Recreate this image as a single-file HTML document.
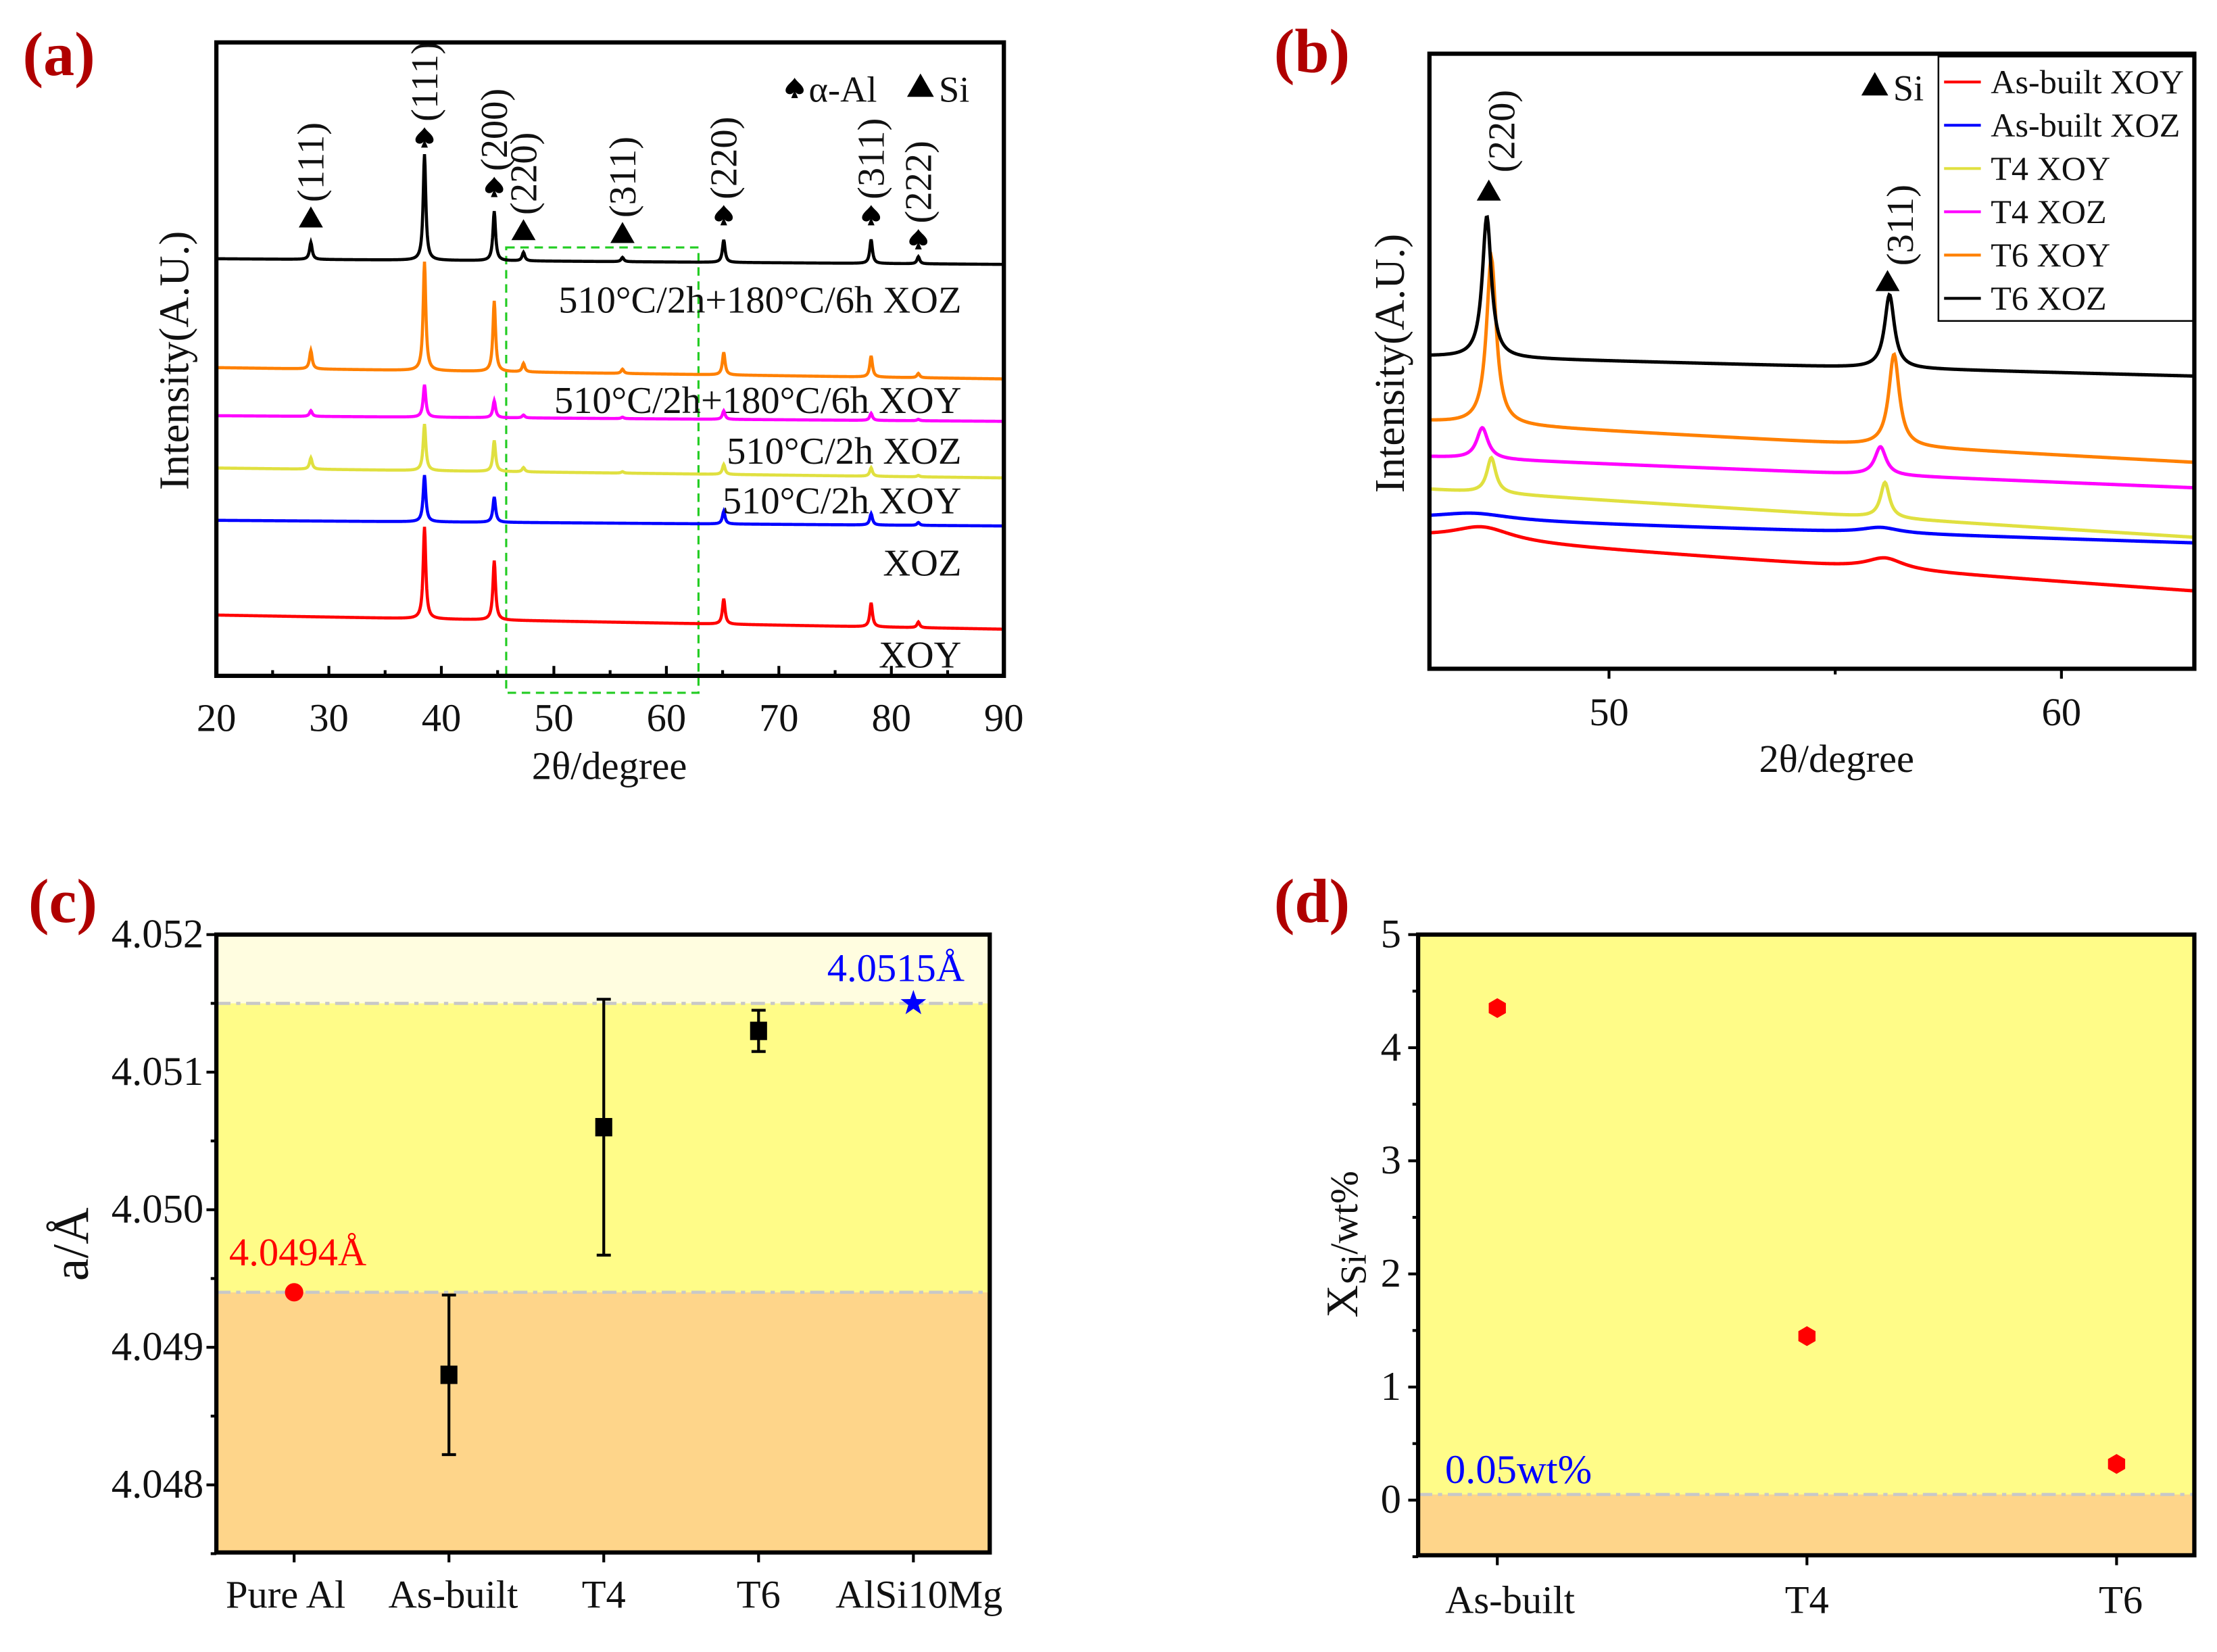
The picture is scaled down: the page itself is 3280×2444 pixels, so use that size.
<!DOCTYPE html>
<html><head><meta charset="utf-8">
<style>
html,body{margin:0;padding:0;background:#fff;}
svg{display:block;}
text{font-family:"Liberation Serif",serif;}
</style></head>
<body>
<svg id="fig" xmlns="http://www.w3.org/2000/svg" width="3280" height="2444" viewBox="0 0 1568 1168.4">
<rect x="0" y="0" width="1568" height="1169" fill="#fff"/>
<g id="pa"></g>
<g id="pb"></g>
<g id="pc"></g>
<g id="pd"></g>
</svg>
<script>
// ---------- Panel (a) data ----------
const aColors = ["#000000","#ff8000","#ff00ff","#e0e040","#0000ff","#ff0000"];
const aBaseStart = [183, 260, 294, 331, 368, 435];
const aBaseEnd = [187, 268, 298, 338, 372, 445];
const aPeakPos = [28.4, 38.5, 44.7, 47.3, 56.1, 65.1, 78.2, 82.4];
const aPeakH0 = [12, 75, 35, 6, 3, 16, 17, 5];
const aPeakH1 = [13, 77, 50, 6, 3, 16, 15, 3];
const aPeakH2 = [4, 23, 12, 2, 1, 6, 5, 1];
const aPeakH3 = [8, 33, 22, 3, 1, 7, 6, 1];
const aPeakH4 = [0, 33, 18, 0, 0, 9, 8, 2];
const aPeakH5 = [0, 65, 42, 0, 0, 18, 17, 4];
const aPeakH = [aPeakH0, aPeakH1, aPeakH2, aPeakH3, aPeakH4, aPeakH5];
const aXTicks = [20,30,40,50,60,70,80,90];
const aCurveLabels = ["510°C/2h+180°C/6h XOZ","510°C/2h+180°C/6h XOY","510°C/2h XOZ","510°C/2h XOY","XOZ","XOY"];
const aAnnPos = [28.4, 38.5, 44.7, 47.3, 56.1, 65.1, 78.2, 82.4];
const aAnnType = ["si","al","al","si","si","al","al","al"];
const aAnnText = ["(111)","(111)","(200)","(220)","(311)","(220)","(311)","(222)"];

// ---------- Panel (b) data ----------
const bColors = ["#ff0000","#0000ff","#e0e040","#ff00ff","#ff8000","#000000"];
const bNames = ["As-built XOY","As-built XOZ","T4 XOY","T4 XOZ","T6 XOY","T6 XOZ"];
const bBaseStart = [380, 367, 346, 323, 298, 252];
const bBaseEnd = [418, 384, 380, 345, 327, 266];
const bPeak1Pos = [47.2, 47.0, 47.4, 47.2, 47.4, 47.3];
const bPeak1H = [10, 5, 25, 22, 118, 100];
const bPeak1W = [0.8, 1.0, 0.12, 0.15, 0.13, 0.12];
const bPeak2Pos = [56.1, 56.0, 56.1, 56.0, 56.3, 56.2];
const bPeak2H = [8, 4, 25, 20, 65, 52];
const bPeak2W = [0.5, 0.5, 0.12, 0.15, 0.14, 0.13];
const bXTicks = [50, 60];

// ---------- Panel (c) data ----------
const cCats = ["Pure Al","As-built","T4","T6","AlSi10Mg"];
const cVals = [4.0494, 4.0488, 4.0506, 4.0513, 4.0515];
const cErrLo = [0, 4.04822, 4.04967, 4.05115, 0];
const cErrHi = [0, 4.04938, 4.05153, 4.05145, 0];
const cYTicks = [4.048, 4.049, 4.050, 4.051, 4.052];
const cRefLow = 4.0494, cRefHigh = 4.0515;

// ---------- Panel (d) data ----------
const dCats = ["As-built","T4","T6"];
const dVals = [4.35, 1.45, 0.32];
const dYTicks = [0,1,2,3,4,5];
const dRef = 0.05;

const NS="http://www.w3.org/2000/svg";
function mk(parent, tag, attrs, txt){
  const e=document.createElementNS(NS,tag);
  for(const k in attrs) e.setAttribute(k, attrs[k]);
  if(txt!==undefined) e.textContent=txt;
  parent.appendChild(e); return e;
}
function spade(g,x,y,s){
  const e=mk(g,"path",{d:`M${x},${y-s} C${x-s*0.2},${y-s*0.6} ${x-s},${y-s*0.2} ${x-s*0.75},${y+s*0.3} C${x-s*0.5},${y+s*0.6} ${x-s*0.1},${y+s*0.4} ${x-s*0.05},${y+s*0.2} L${x-s*0.3},${y+s*0.8} L${x+s*0.3},${y+s*0.8} L${x+s*0.05},${y+s*0.2} C${x+s*0.1},${y+s*0.4} ${x+s*0.5},${y+s*0.6} ${x+s*0.75},${y+s*0.3} C${x+s},${y-s*0.2} ${x+s*0.2},${y-s*0.6} ${x},${y-s} Z`,fill:"#000"});
  
  
}
function tri(g,x,y,s){
  const e=mk(g,"path",{d:`M${x},${y-s} L${x+s*0.95},${y+s*0.65} L${x-s*0.95},${y+s*0.65} Z`,fill:"#000"});
  
  
}
function label(g,x,y,txt,size,name,opts){
  const a=Object.assign({x:x,y:y,"font-size":size,fill:"#111"},opts||{});
  const t=mk(g,"text",a,txt);
  
  
  return t;
}

// ========== Panel (a) ==========
(function(){
  const g=document.getElementById("pa");
  const L=153,R=710,T=30,B=478,x0=20,x1=90;
  const sx=v=>L+(v-x0)/(x1-x0)*(R-L);
  label(g,16,53,"(a)",44,"panel-a-label",{fill:"#b00000","font-weight":"bold"});
  const gb=mk(g,"rect",{x:358,y:175,width:136,height:315,fill:"none",stroke:"#22cc22","stroke-width":1.5,"stroke-dasharray":"6,4"});
  
  
  for(let s=0;s<6;s++){
    let d="";
    for(let i=0;i<=1400;i++){
      const v=x0+(x1-x0)*i/1400;
      let y=aBaseStart[s]+(aBaseEnd[s]-aBaseStart[s])*(v-x0)/(x1-x0);
      for(let p=0;p<aPeakPos.length;p++){const u=(v-aPeakPos[p])/0.14;y-=aPeakH[s][p]/(1+u*u);}
      d+=(i?"L":"M")+sx(v).toFixed(2)+","+y.toFixed(2);
    }
    const e=mk(g,"path",{d:d,fill:"none",stroke:aColors[s],"stroke-width":2.2});
    
    
  }
  const labY=[221,292,328,363,407,472];
  for(let s=0;s<6;s++) label(g,680,labY[s],aCurveLabels[s],27,"curve-label",{"text-anchor":"end"});
  const annY=[155,98,133,164,166,153,153,170];
  for(let i=0;i<aAnnPos.length;i++){
    const x=sx(aAnnPos[i]);
    if(aAnnType[i]==="si") tri(g,x,annY[i],9); else spade(g,x,annY[i],8);
    label(g,x+9,annY[i]-12,aAnnText[i],27,"peak-index-label",{transform:`rotate(-90 ${x+9} ${annY[i]-12})`});
  }
  spade(g,562,63,8);
  label(g,572,72,"α-Al",26,"legend-al");
  tri(g,651,62,10);
  label(g,664,72,"Si",26,"legend-si");
  const bx=mk(g,"rect",{x:L,y:T,width:R-L,height:B-T,fill:"none",stroke:"#000","stroke-width":3});
  
  
  for(let v=20;v<=90;v+=5){
    const major=v%10===0;
    mk(g,"line",{x1:sx(v),x2:sx(v),y1:B,y2:B-(major?7:4),stroke:"#000","stroke-width":2});
  }
  aXTicks.forEach(v=>label(g,sx(v),517,String(v),28,"x-tick-label",{"text-anchor":"middle"}));
  label(g,431,551,"2θ/degree",28,"x-axis-title",{"text-anchor":"middle"});
  label(g,133,255,"Intensity(A.U.)",30,"y-axis-title",{"text-anchor":"middle",transform:"rotate(-90 133 255)"});
})();

// ========== Panel (b) ==========
(function(){
  const g=document.getElementById("pb");
  const L=1011,R=1552,T=38,B=473;
  const sx=v=>1138+(v-50)*32;
  const x0=(L-1138)/32+50, x1=(R-1138)/32+50;
  label(g,901,51,"(b)",44,"panel-b-label",{fill:"#b00000","font-weight":"bold"});
  for(let s=0;s<6;s++){
    let d="";
    for(let i=0;i<=900;i++){
      const v=x0+(x1-x0)*i/900;
      let y=bBaseStart[s]+(bBaseEnd[s]-bBaseStart[s])*(v-x0)/(x1-x0);
      let u=(v-bPeak1Pos[s])/bPeak1W[s]; y-=bPeak1H[s]/(1+u*u);
      u=(v-bPeak2Pos[s])/bPeak2W[s]; y-=bPeak2H[s]/(1+u*u);
      d+=(i?"L":"M")+sx(v).toFixed(2)+","+y.toFixed(2);
    }
    const e=mk(g,"path",{d:d,fill:"none",stroke:bColors[s],"stroke-width":2.4});
    
    
  }
  tri(g,1053,136,9);
  label(g,1071,122,"(220)",27,"peak-index-label",{transform:"rotate(-90 1071 122)"});
  tri(g,1335,200,9);
  label(g,1353,188,"(311)",27,"peak-index-label",{transform:"rotate(-90 1353 188)"});
  tri(g,1326,61,10);
  label(g,1339,71,"Si",26,"legend-si");
  const lg=mk(g,"g",{});
  
  
  mk(lg,"rect",{x:1371,y:40,width:181,height:187,fill:"#fff",stroke:"#000","stroke-width":1.2});
  [0,1,2,3,4,5].forEach((s,k)=>{
    const y=58+k*30.6;
    mk(lg,"line",{x1:1375,x2:1401,y1:y,y2:y,stroke:bColors[s],"stroke-width":2});
    label(lg,1408,y+8,bNames[s],24,"legend-entry");
  });
  const bx=mk(g,"rect",{x:L,y:T,width:R-L,height:B-T,fill:"none",stroke:"#000","stroke-width":3});
  
  
  [50,55,60].forEach(v=>mk(g,"line",{x1:sx(v),x2:sx(v),y1:B,y2:B+(v%10===0?7:4),stroke:"#000","stroke-width":2}));
  bXTicks.forEach(v=>label(g,sx(v),513,String(v),28,"x-tick-label",{"text-anchor":"middle"}));
  label(g,1299,546,"2θ/degree",28,"x-axis-title",{"text-anchor":"middle"});
  label(g,993,257,"Intensity(A.U.)",30,"y-axis-title",{"text-anchor":"middle",transform:"rotate(-90 993 257)"});
})();

// ========== Panel (c) ==========
(function(){
  const g=document.getElementById("pc");
  const L=153,R=700,T=661,B=1098;
  const sy=v=>661+(4.052-v)*97300;
  const sx=i=>208+i*109.5;
  label(g,20,652,"(c)",44,"panel-c-label",{fill:"#b00000","font-weight":"bold"});
  mk(g,"rect",{x:L,y:T,width:R-L,height:sy(cRefHigh)-T,fill:"#fffde0"});
  mk(g,"rect",{x:L,y:sy(cRefHigh),width:R-L,height:sy(cRefLow)-sy(cRefHigh),fill:"#fffc88"});
  mk(g,"rect",{x:L,y:sy(cRefLow),width:R-L,height:B-sy(cRefLow),fill:"#fed58a"});
  [cRefHigh,cRefLow].forEach(v=>{
    const e=mk(g,"line",{x1:L,x2:R,y1:sy(v),y2:sy(v),stroke:"#c8c8c8","stroke-width":2.2,"stroke-dasharray":"10,4,3,4"});
    
    
  });
  for(let i=0;i<cCats.length;i++){
    const x=sx(i),y=sy(cVals[i]);
    if(cErrLo[i]){
      const e=mk(g,"path",{d:`M${x},${sy(cErrLo[i])}L${x},${sy(cErrHi[i])}M${x-5},${sy(cErrLo[i])}L${x+5},${sy(cErrLo[i])}M${x-5},${sy(cErrHi[i])}L${x+5},${sy(cErrHi[i])}`,stroke:"#000","stroke-width":2,fill:"none"});
      
      
    }
    let m;
    if(i===0) m=mk(g,"circle",{cx:x,cy:y,r:6.5,fill:"#ff0000"});
    else if(i===cCats.length-1){
      let d="";for(let k=0;k<10;k++){const r=k%2?3.8:9.5,a=-Math.PI/2+k*Math.PI/5;d+=(k?"L":"M")+(x+r*Math.cos(a)).toFixed(2)+","+(y+r*Math.sin(a)).toFixed(2);}
      m=mk(g,"path",{d:d+"Z",fill:"#0000ff"});
    } else m=mk(g,"rect",{x:x-6,y:y-6.5,width:12,height:13,fill:"#000"});
    
    
  }
  label(g,162,895,"4.0494Å",28,"pure-al-value-label",{fill:"#ff0000"});
  label(g,585,694,"4.0515Å",28,"alsi10mg-value-label",{fill:"#0000ff"});
  const bx=mk(g,"rect",{x:L,y:T,width:R-L,height:B-T,fill:"none",stroke:"#000","stroke-width":3});
  
  
  for(let v=4.0475;v<=4.05201;v+=0.0005){
    const major=Math.abs(Math.round(v*1000)-v*1000)<1e-6;
    mk(g,"line",{x1:L,x2:L-(major?7:4),y1:sy(v),y2:sy(v),stroke:"#000","stroke-width":2});
  }
  cYTicks.forEach(v=>label(g,144,sy(v)+9,v.toFixed(3),29,"y-tick-label",{"text-anchor":"end"}));
  cCats.forEach((c,i)=>{
    mk(g,"line",{x1:sx(i),x2:sx(i),y1:B,y2:B+7,stroke:"#000","stroke-width":2});
    label(g,sx(i)-(i===0?6:i===1?-3:i===4?-4:0),1137,c,28,"x-category-label",{"text-anchor":"middle"});
  });
  label(g,62,880,"a/Å",36,"y-axis-title",{"text-anchor":"middle",transform:"rotate(-90 62 880)"});
})();

// ========== Panel (d) ==========
(function(){
  const g=document.getElementById("pd");
  const L=1003,R=1552,T=661,B=1100;
  const sy=v=>1061-v*80;
  const sx=i=>1059+i*219;
  label(g,901,652,"(d)",44,"panel-d-label",{fill:"#b00000","font-weight":"bold"});
  mk(g,"rect",{x:L,y:T,width:R-L,height:sy(dRef)-T,fill:"#fffc88"});
  mk(g,"rect",{x:L,y:sy(dRef),width:R-L,height:B-sy(dRef),fill:"#fed58a"});
  const rl=mk(g,"line",{x1:L,x2:R,y1:sy(dRef),y2:sy(dRef),stroke:"#c8c8c8","stroke-width":2.2,"stroke-dasharray":"10,4,3,4"});
  
  
  dVals.forEach((v,i)=>{
    const x=sx(i),y=sy(v);let d="";
    for(let k=0;k<6;k++){const a=Math.PI/6+k*Math.PI/3;d+=(k?"L":"M")+(x+7*Math.cos(a)).toFixed(2)+","+(y+7*Math.sin(a)).toFixed(2);}
    const m=mk(g,"path",{d:d+"Z",fill:"#ff0000"});
    
    
  });
  label(g,1022,1049,"0.05wt%",29,"threshold-label",{fill:"#0000ff"});
  const bx=mk(g,"rect",{x:L,y:T,width:R-L,height:B-T,fill:"none",stroke:"#000","stroke-width":3});
  
  
  for(let v=-0.5;v<=5.01;v+=0.5){
    const major=Math.abs(v-Math.round(v))<1e-6;
    mk(g,"line",{x1:L,x2:L-(major?7:4),y1:sy(v),y2:sy(v),stroke:"#000","stroke-width":2});
  }
  dYTicks.forEach(v=>label(g,991,sy(v)+9,String(v),29,"y-tick-label",{"text-anchor":"end"}));
  dCats.forEach((c,i)=>{
    mk(g,"line",{x1:sx(i),x2:sx(i),y1:B,y2:B+7,stroke:"#000","stroke-width":2});
    label(g,sx(i)+(i===0?9:i===2?3:0),1141,c,28,"x-category-label",{"text-anchor":"middle"});
  });
  const t=label(g,960,880,"X",32,"y-axis-title",{"text-anchor":"middle",transform:"rotate(-90 960 880)"});
  t.textContent="";
  mk(t,"tspan",{},"X");
  mk(t,"tspan",{"font-size":26,dy:6},"Si");
  mk(t,"tspan",{"font-size":28,dy:-6},"/wt%");
})();
</script>
</body></html>
